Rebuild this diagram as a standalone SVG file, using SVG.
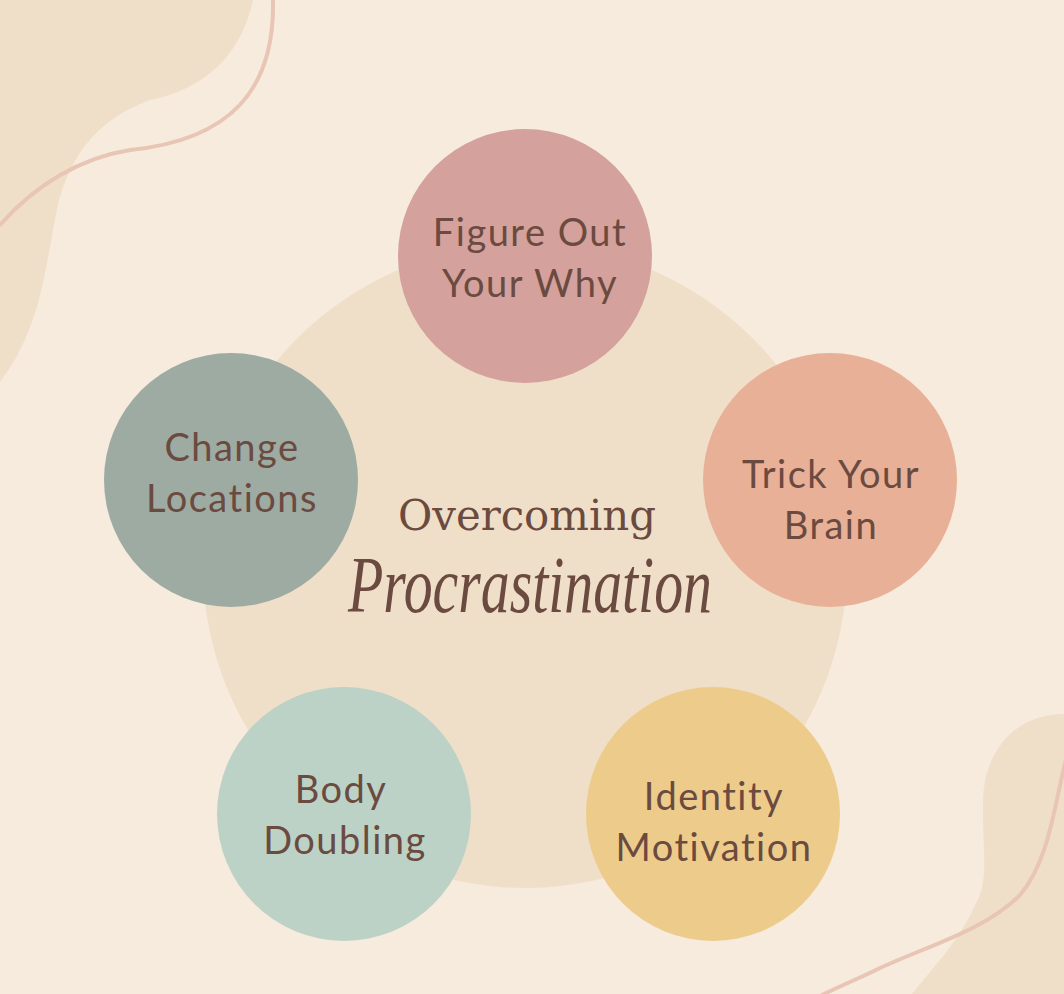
<svg xmlns="http://www.w3.org/2000/svg" width="1064" height="994" viewBox="0 0 1064 994">
<style>
.blob{fill:#f0dfc8}
.wave{fill:none;stroke:#e8c5b4;stroke-width:4;stroke-linecap:round}
.lbl{font-family:Lato,"Noto Sans",sans-serif;font-size:38px;fill:#6b4a40;text-anchor:middle;letter-spacing:1.5px}
.title{font-family:"DejaVu Serif","Liberation Serif",serif;font-size:43px;fill:#6b4a40;text-anchor:middle;font-weight:300}
.script{font-family:"Liberation Serif",serif;font-style:italic;font-size:80px;fill:#6b4a40;text-anchor:middle}
</style>
<rect width="1064" height="994" fill="#f7ebdd"/>
<g id="background">
<path class="blob" d="M0 0 H253 C240 60 200 90 150 100 C95 120 65 160 55 220 C45 270 40 330 0 382 Z"/>
<path class="wave" d="M273 0 C275 90 230 140 130 150 C80 158 35 185 0 225"/>
<path class="blob" d="M1064 714 C1020 714 985 745 983 800 C982 850 990 880 975 905 C960 940 935 965 912 994 H1064 Z"/>
<path class="wave" d="M1066 760 C1055 800 1050 860 1020 895 C985 930 930 945 880 968 C860 978 840 986 820 996"/>
<circle cx="525" cy="566" r="322" fill="#f0dfc8"/>
</g>
<g id="center-title">
<text class="title" x="527" y="530" textLength="258" lengthAdjust="spacingAndGlyphs">Overcoming</text>
<text class="script" x="530" y="612" textLength="364" lengthAdjust="spacingAndGlyphs">Procrastination</text>
</g>
<g id="node-why">
<circle cx="525" cy="256" r="127" fill="#d4a19c"/>
<text class="lbl" x="530" y="246">Figure Out</text>
<text class="lbl" x="530" y="297">Your Why</text>
</g>
<g id="node-trick">
<circle cx="830" cy="480" r="127" fill="#e8b096"/>
<text class="lbl" x="831" y="488">Trick Your</text>
<text class="lbl" x="831" y="539">Brain</text>
</g>
<g id="node-change">
<circle cx="231" cy="480" r="127" fill="#9eaba3"/>
<text class="lbl" x="232" y="461">Change</text>
<text class="lbl" x="232" y="512">Locations</text>
</g>
<g id="node-body">
<circle cx="344" cy="814" r="127" fill="#bdd2c6"/>
<text class="lbl" x="341" y="803">Body</text>
<text class="lbl" x="345" y="854">Doubling</text>
</g>
<g id="node-identity">
<circle cx="713" cy="814" r="127" fill="#edcb8b"/>
<text class="lbl" x="714" y="810">Identity</text>
<text class="lbl" x="714" y="861">Motivation</text>
</g>
<g id="connectors"/>
</svg>
